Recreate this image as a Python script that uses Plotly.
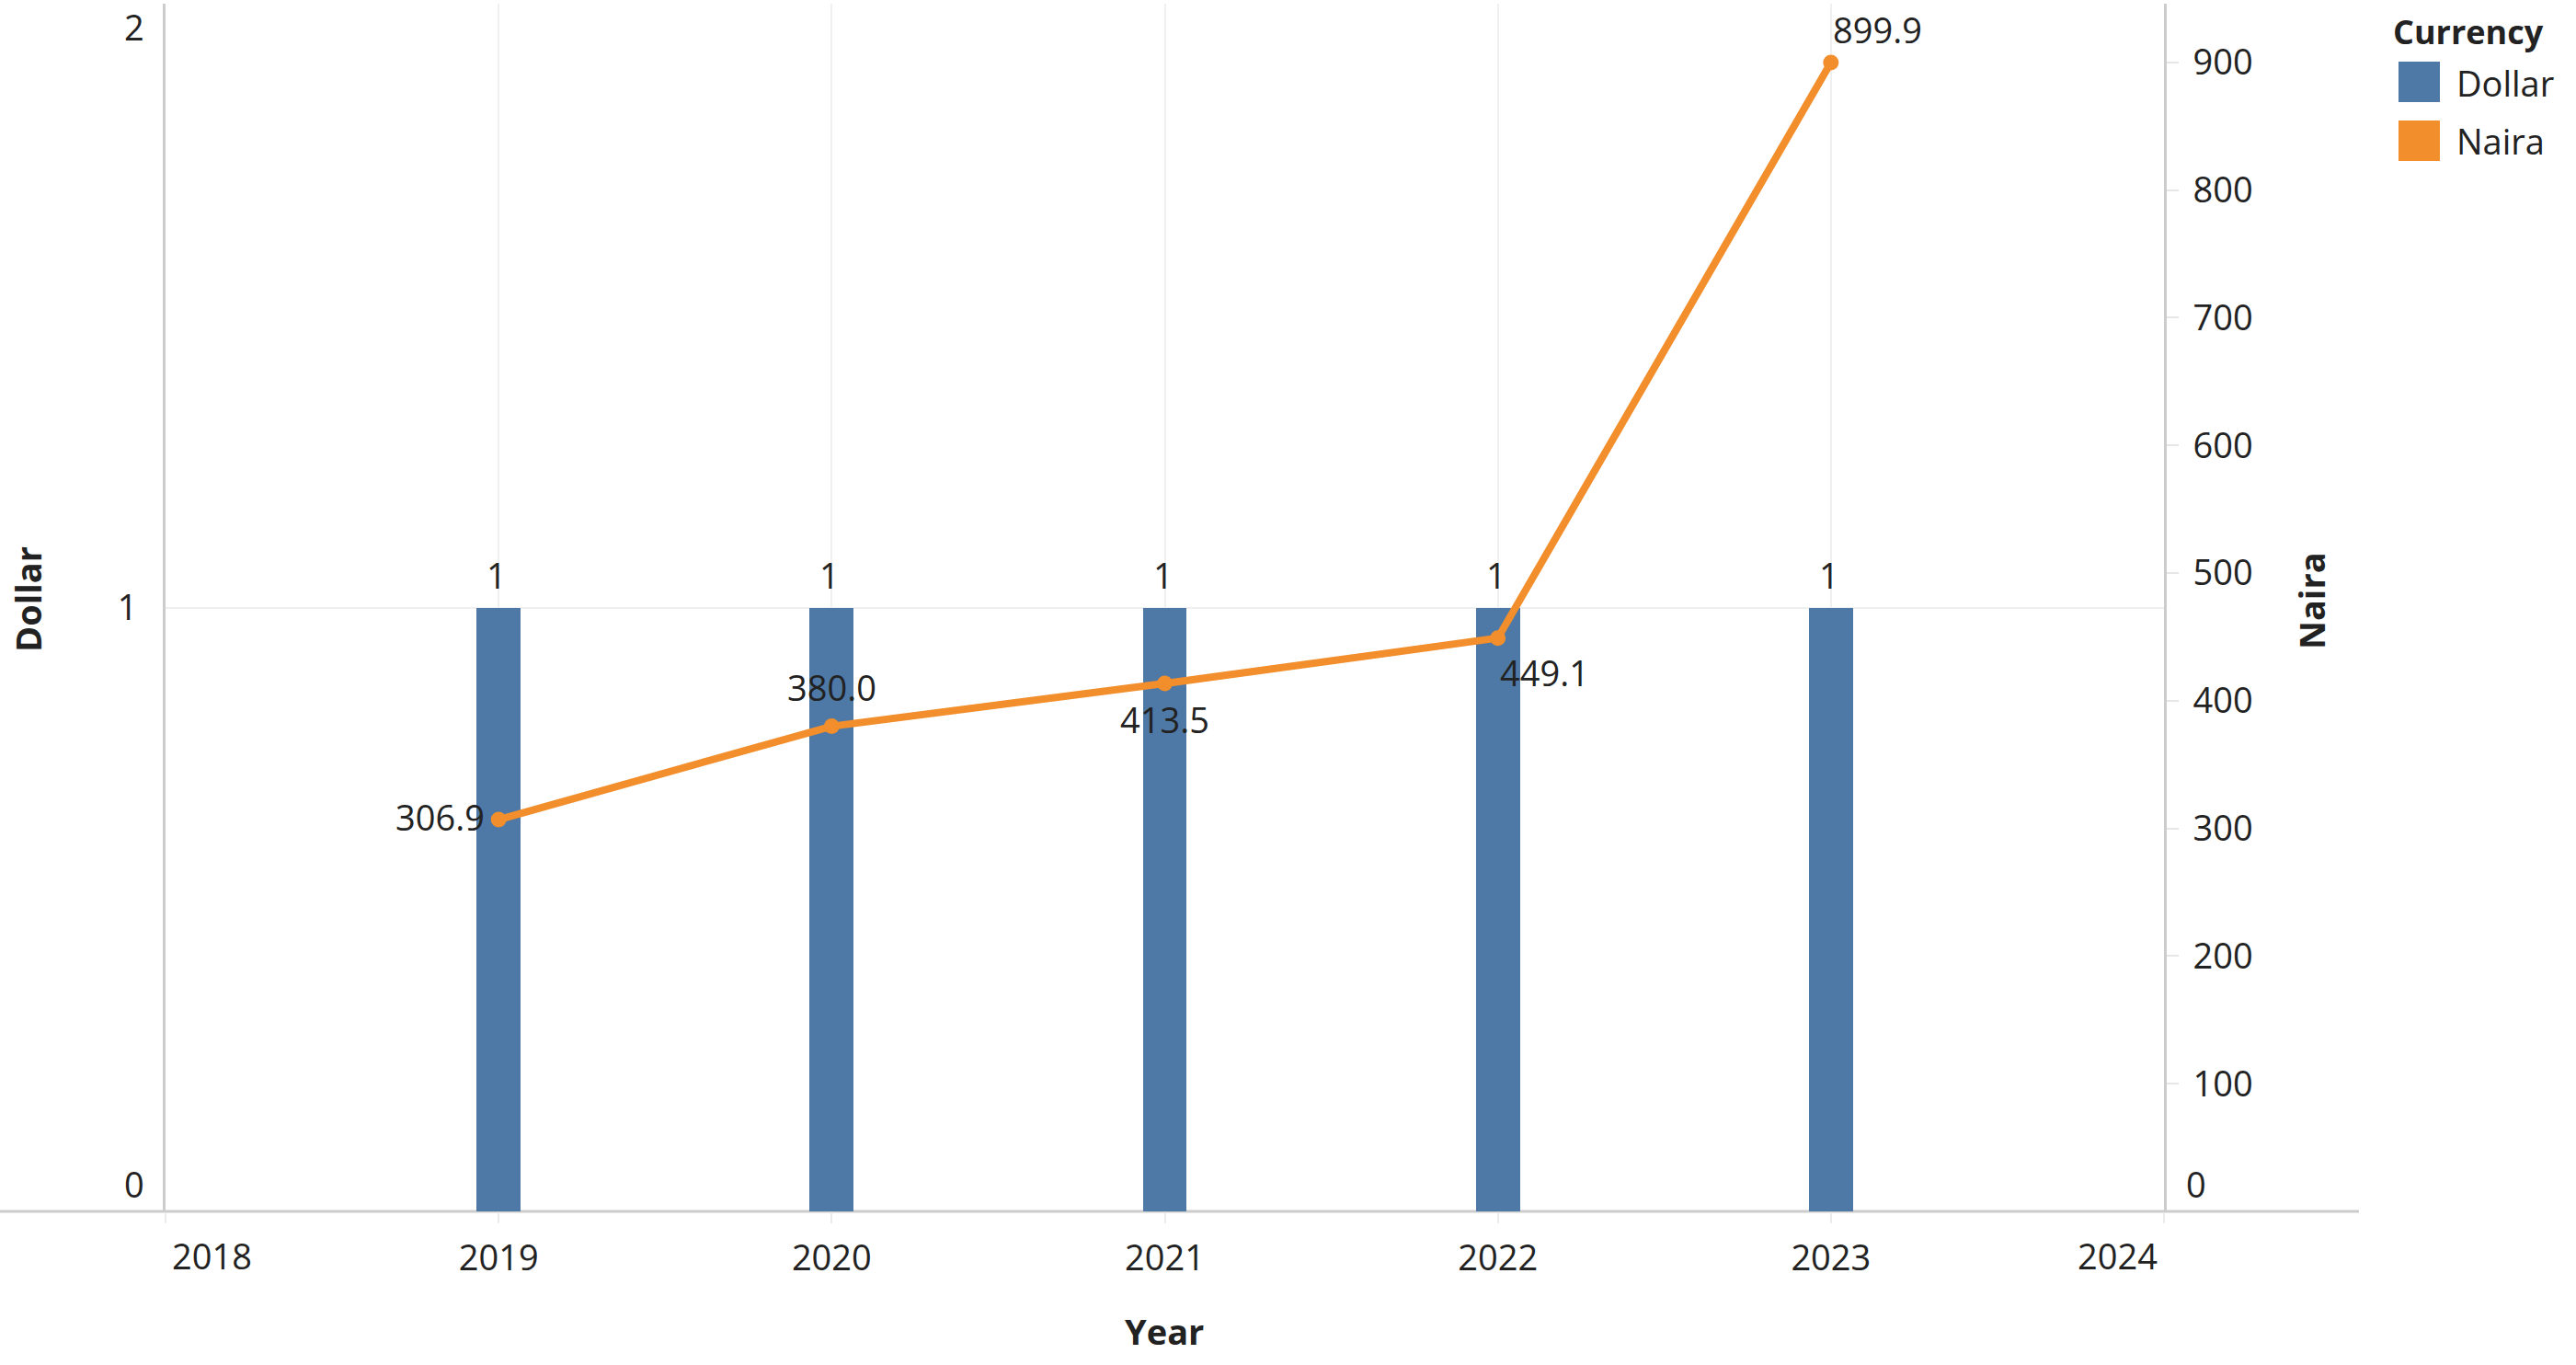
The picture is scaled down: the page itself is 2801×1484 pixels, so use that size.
import plotly.graph_objects as go

# ---------------- data ----------------
years = [2019, 2020, 2021, 2022, 2023]
dollar = [1, 1, 1, 1, 1]
naira = [306.9, 380.0, 413.5, 449.1, 899.9]
naira_labels = ["306.9", "380.0", "413.5", "449.1", "899.9"]
x_tickvals = [2018, 2019, 2020, 2021, 2022, 2023, 2024]
x_ticktext = ["", "2019", "2020", "2021", "2022", "2023", ""]
dollar_tickvals = [1]
naira_tickvals = [100, 200, 300, 400, 500, 600, 700, 800, 900]
legend_title = "Currency"
series_names = ["Dollar", "Naira"]

# ---------------- styling ----------------
BLUE = "#4E79A7"
ORANGE = "#F28E2B"
TXT = "#222222"
FONT = "Open Sans"
FS = 38

W, H = 2801, 1484
L, R, T, B = 180, 448, 4, 167
PW, PH = W - L - R, H - T - B


def px_x(px):
    return (px - L) / PW


def px_y(py):
    return (H - B - py) / PH


# per-label placement of Naira value labels (anchor, shifts in px)
naira_xanchor = ["right", "center", "center", "left", "left"]
naira_xshift = [-13, 0, 0, 0, 0]
naira_yshift = [3, 43, -39, -37, 36]

fig = go.Figure()

fig.add_trace(go.Bar(
    x=years, y=dollar, name=series_names[0], width=0.1325,
    marker=dict(color=BLUE, line=dict(width=0)),
    showlegend=False,
))

fig.add_trace(go.Scatter(
    x=years, y=naira, name=series_names[1], yaxis="y2",
    mode="lines+markers",
    line=dict(color=ORANGE, width=8),
    marker=dict(color=ORANGE, size=17),
    cliponaxis=False, showlegend=False,
))

annotations = []
# bar value labels
for yr, v in zip(years, dollar):
    annotations.append(dict(
        x=yr, y=v, xref="x", yref="y", text=str(v), showarrow=False,
        xanchor="center", yanchor="middle", xshift=-2, yshift=36,
        font=dict(family=FONT, size=FS, color=TXT),
    ))

# line value labels
for yr, v, lab, xa, xs, ys in zip(years, naira, naira_labels, naira_xanchor, naira_xshift, naira_yshift):
    annotations.append(dict(
        x=yr, y=v, xref="x", yref="y2", text=lab, showarrow=False,
        xanchor=xa, yanchor="middle", xshift=xs, yshift=ys,
        font=dict(family=FONT, size=FS, color=TXT),
    ))

# edge tick labels (pushed inward as in the original)
annotations += [
    dict(x=x_tickvals[0], y=px_y(1365), xref="x", yref="paper", text=str(x_tickvals[0]),
         xanchor="left", yanchor="middle", xshift=5, showarrow=False,
         font=dict(family=FONT, size=FS, color=TXT)),
    dict(x=x_tickvals[-1], y=px_y(1365), xref="x", yref="paper", text=str(x_tickvals[-1]),
         xanchor="right", yanchor="middle", xshift=-5, showarrow=False,
         font=dict(family=FONT, size=FS, color=TXT)),
    dict(x=px_x(159), y=px_y(29), xref="paper", yref="paper", text="2",
         xanchor="right", yanchor="middle", showarrow=False,
         font=dict(family=FONT, size=FS, color=TXT)),
    dict(x=px_x(159), y=px_y(1287), xref="paper", yref="paper", text="0",
         xanchor="right", yanchor="middle", showarrow=False,
         font=dict(family=FONT, size=FS, color=TXT)),
    dict(x=px_x(2375), y=px_y(1287), xref="paper", yref="paper", text="0",
         xanchor="left", yanchor="middle", showarrow=False,
         font=dict(family=FONT, size=FS, color=TXT)),
]

# axis titles
annotations += [
    dict(x=px_x(1266), y=px_y(1447), xref="paper", yref="paper", text="<b>Year</b>",
         xanchor="center", yanchor="middle", showarrow=False,
         font=dict(family=FONT, size=FS, color=TXT)),
    dict(x=px_x(30), y=px_y(652), xref="paper", yref="paper", text="<b>Dollar</b>",
         xanchor="center", yanchor="middle", textangle=-90, showarrow=False,
         font=dict(family=FONT, size=FS, color=TXT)),
    dict(x=px_x(2513), y=px_y(653), xref="paper", yref="paper", text="<b>Naira</b>",
         xanchor="center", yanchor="middle", textangle=-90, showarrow=False,
         font=dict(family=FONT, size=FS, color=TXT)),
]

# legend
annotations += [
    dict(x=px_x(2600), y=px_y(35), xref="paper", yref="paper", text="<b>" + legend_title + "</b>",
         xanchor="left", yanchor="middle", showarrow=False,
         font=dict(family=FONT, size=36, color=TXT)),
    dict(x=px_x(2669), y=px_y(90), xref="paper", yref="paper", text=series_names[0],
         xanchor="left", yanchor="middle", showarrow=False,
         font=dict(family=FONT, size=FS, color=TXT)),
    dict(x=px_x(2669), y=px_y(153), xref="paper", yref="paper", text=series_names[1],
         xanchor="left", yanchor="middle", showarrow=False,
         font=dict(family=FONT, size=FS, color=TXT)),
]

shapes = [
    # baseline extending across the whole view
    dict(type="line", xref="paper", yref="paper", x0=px_x(0), x1=px_x(2565), y0=0, y1=0,
         line=dict(color="#cccccc", width=3), layer="below"),
    # legend swatches
    dict(type="rect", xref="paper", yref="paper", x0=px_x(2608), x1=px_x(2653),
         y0=px_y(111), y1=px_y(67), fillcolor=BLUE, line=dict(width=0)),
    dict(type="rect", xref="paper", yref="paper", x0=px_x(2608), x1=px_x(2653),
         y0=px_y(175), y1=px_y(131), fillcolor=ORANGE, line=dict(width=0)),
]

fig.update_layout(
    width=W, height=H, autosize=False,
    margin=dict(l=L, r=R, t=T, b=B, pad=0),
    paper_bgcolor="white", plot_bgcolor="white",
    font=dict(family=FONT, size=FS, color=TXT),
    showlegend=False,
    bargap=0,
    xaxis=dict(
        range=[2018, 2024], tickmode="array", tickvals=x_tickvals, ticktext=x_ticktext,
        ticks="outside", ticklen=12, tickwidth=2, tickcolor="#ebebeb",
        showgrid=True, gridcolor="#f0f0f0", gridwidth=2,
        showline=False, zeroline=False, ticklabelstandoff=5,
        tickfont=dict(family=FONT, size=FS, color=TXT),
    ),
    yaxis=dict(
        range=[0, 2], tickmode="array", tickvals=dollar_tickvals,
        ticks="", showgrid=True, gridcolor="#efefef", gridwidth=2,
        showline=True, linecolor="#cccccc", linewidth=3, zeroline=False,
        ticklabelstandoff=20,
        tickfont=dict(family=FONT, size=FS, color=TXT),
    ),
    yaxis2=dict(
        range=[0, 946], overlaying="y", side="right", tickmode="array",
        tickvals=naira_tickvals, ticks="outside", ticklen=13, tickwidth=2,
        tickcolor="#e6e6e6", showgrid=False, showline=True, linecolor="#cccccc",
        linewidth=3, zeroline=False, ticklabelstandoff=8,
        tickfont=dict(family=FONT, size=FS, color=TXT),
    ),
    annotations=annotations,
    shapes=shapes,
)

fig.write_html(
    "out.html",
    config={"displayModeBar": False},
    post_script="document.body.style.margin='0';document.body.style.overflow='hidden';",
)
